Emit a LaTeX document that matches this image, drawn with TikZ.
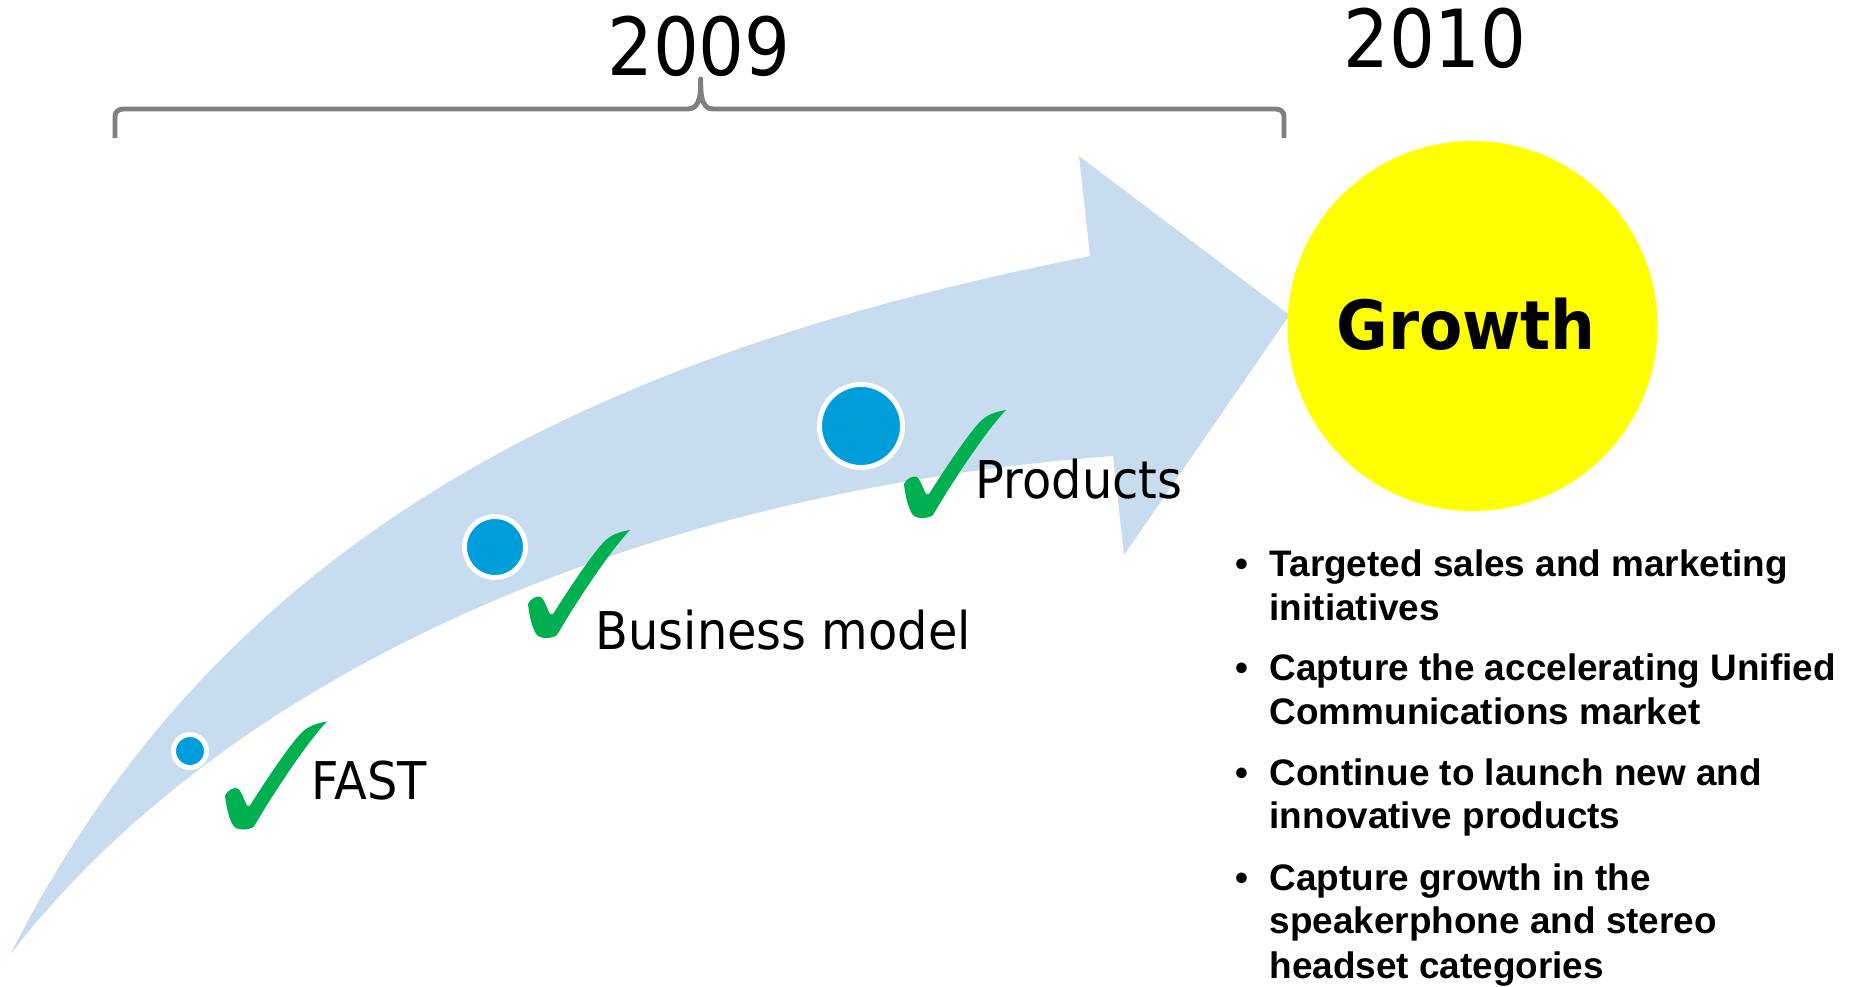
\documentclass[tikz,border=0pt]{standalone}
\usepackage{fontspec}
\usepackage{tikz}

\newfontfamily\yearfont{DejaVu Sans}[FakeStretch=0.9]
\newfontfamily\labelfont{DejaVu Sans}[FakeStretch=0.92]
\newfontfamily\growthfont{DejaVu Sans}[FakeStretch=0.93]
\newfontfamily\itemfont{Liberation Sans}

\definecolor{bandblue}{RGB}{200,220,240}
\definecolor{dotblue}{RGB}{0,157,219}
\definecolor{checkgreen}{RGB}{0,176,80}
\definecolor{bracegray}{RGB}{128,128,128}
\definecolor{goalyellow}{RGB}{255,255,0}

% green tick, #1 = lower left corner, shape given in 0.01cm steps
\newcommand{\greentick}[1]{%
  \fill[checkgreen, shift={#1}, x=0.01cm, y=0.01cm]
    (103,109) .. controls (95,108) and (86,105) .. (80,100)
    .. controls (70,92) and (45,55) .. (26,25)
    -- (23,25)
    .. controls (19,33) and (17,40) .. (14,42)
    .. controls (10,44) and (3,40) .. (1,35)
    .. controls (2,25) and (5,10) .. (10,4)
    .. controls (14,0) and (25,0) .. (30,4)
    .. controls (42,25) and (80,85) .. (103,109) -- cycle;}

\newcommand{\itembullet}{\llap{\textbullet\hspace{6pt}}}

\begin{document}
\begin{tikzpicture}[
  dotnode/.style={circle,fill=dotblue,draw=white,line width=1.4pt,inner sep=0pt},
  yearnode/.style={anchor=base,inner sep=0pt,font=\yearfont\fontsize{22.8}{27}\selectfont},
  labelnode/.style={anchor=base west,inner sep=0pt,font=\labelfont\fontsize{14.8}{18}\selectfont},
  itemnode/.style={anchor=base west,inner sep=0pt,font=\itemfont\bfseries\fontsize{10.5}{12.6}\selectfont}
]
  \useasboundingbox (0,0) rectangle (18.56,9.86);

  % curved band arrow
  \fill[bandblue] (0.10,0.31) .. controls (2.30,4.66) and (6.19,6.36) .. (10.90,7.30)
    -- (10.79,8.30) -- (12.895,6.71) -- (11.24,4.31) -- (11.13,5.30)
    .. controls (6.14,4.92) and (2.15,2.98) .. (0.10,0.31) -- cycle;

  % brace over 2009
  \draw[bracegray, line width=1.4pt, line join=round]
    (1.15,8.48) -- (1.15,8.70) to[out=90,in=180] (1.23,8.77) -- (6.88,8.77)
    to[out=0,in=-90] (7.007,9.07) to[out=-90,in=180] (7.13,8.77) -- (12.76,8.77)
    to[out=0,in=90] (12.84,8.70) -- (12.84,8.48);

  % years
  \node[yearnode] (y2009) at (6.99,9.11) {2009};
  \node[yearnode] (y2010) at (14.35,9.185) {2010};

  % goal
  \node[circle,fill=goalyellow,minimum size=3.7cm,inner sep=0pt] (goal) at (14.725,6.60) {};
  \node[anchor=base,inner sep=0pt,font=\growthfont\bfseries\fontsize{19.3}{23}\selectfont]
    (lgoal) at (14.66,6.37) {Growth};

  % milestones
  \node[dotnode,minimum size=0.33cm] (dfast) at (1.90,2.35) {};
  \node[dotnode,minimum size=0.61cm] (dbiz) at (4.95,4.39) {};
  \node[dotnode,minimum size=0.83cm] (dprod) at (8.61,5.60) {};

  \greentick{(2.24,1.555)}
  \greentick{(5.27,3.47)}
  \greentick{(9.03,4.67)}

  \node[labelnode] (lfast) at (3.11,1.87) {FAST};
  \node[labelnode] (lbiz) at (5.95,3.37) {Business model};
  \node[labelnode] (lprod) at (9.75,4.88) {Products};

  % 2010 plans
  \node[itemnode] (i1a) at (12.69,4.10) {\itembullet Targeted sales and marketing};
  \node[itemnode] (i1b) at (12.69,3.66) {initiatives};
  \node[itemnode] (i2a) at (12.69,3.06) {\itembullet Capture the accelerating Unified};
  \node[itemnode] (i2b) at (12.69,2.62) {Communications market};
  \node[itemnode] (i3a) at (12.69,2.01) {\itembullet Continue to launch new and};
  \node[itemnode] (i3b) at (12.69,1.58) {innovative products};
  \node[itemnode] (i4a) at (12.69,0.96) {\itembullet Capture growth in the};
  \node[itemnode] (i4b) at (12.69,0.53) {speakerphone and stereo};
  \node[itemnode] (i4c) at (12.69,0.08) {headset categories};

\end{tikzpicture}
\end{document}
